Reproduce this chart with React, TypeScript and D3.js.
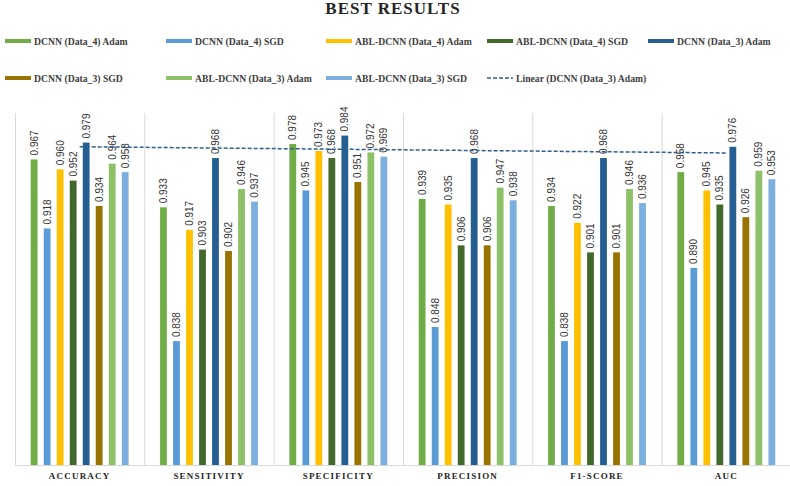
import React from "react";
import * as d3 from "d3";

const categories = ["ACCURACY", "SENSITIVITY", "SPECIFICITY", "PRECISION", "F1-SCORE", "AUC"];
const seriesNames = [
  "DCNN (Data_4) Adam",
  "DCNN (Data_4) SGD",
  "ABL-DCNN (Data_4) Adam",
  "ABL-DCNN (Data_4) SGD",
  "DCNN (Data_3) Adam",
  "DCNN (Data_3) SGD",
  "ABL-DCNN (Data_3) Adam",
  "ABL-DCNN (Data_3) SGD",
];
const seriesColors = ["#70AD47", "#5B9BD5", "#FFC000", "#43682B", "#255E91", "#997300", "#8CC168", "#7CAFDD"];
const dcnn4Adam = [0.967, 0.933, 0.978, 0.939, 0.934, 0.958];
const dcnn4Sgd = [0.918, 0.838, 0.945, 0.848, 0.838, 0.890];
const abl4Adam = [0.960, 0.917, 0.973, 0.935, 0.922, 0.945];
const abl4Sgd = [0.952, 0.903, 0.968, 0.906, 0.901, 0.935];
const dcnn3Adam = [0.979, 0.968, 0.984, 0.968, 0.968, 0.976];
const dcnn3Sgd = [0.934, 0.902, 0.951, 0.906, 0.901, 0.926];
const abl3Adam = [0.964, 0.946, 0.972, 0.947, 0.946, 0.959];
const abl3Sgd = [0.958, 0.937, 0.969, 0.938, 0.936, 0.953];
const seriesValues = [dcnn4Adam, dcnn4Sgd, abl4Adam, abl4Sgd, dcnn3Adam, dcnn3Sgd, abl3Adam, abl3Sgd];
const trendLabel = "Linear (DCNN (Data_3) Adam)";
const title = "BEST RESULTS";
const yDomain = [0.75, 1.0];

const W = 790;
const H = 486;

export default function App() {
  const x0 = d3.scaleBand<string>().domain(categories).range([15, 791]).padding(0);
  const bw = x0.bandwidth();
  const x1 = d3.scaleBand<string>().domain(seriesNames).range([0, bw]).paddingInner(0.477).paddingOuter(1.21);
  const y = d3.scaleLinear().domain(yDomain).range([465, 113]);

  // linear trend for DCNN (Data_3) Adam
  const xs = dcnn3Adam.map((_, i) => i + 1);
  const mx = d3.mean(xs) as number;
  const my = d3.mean(dcnn3Adam) as number;
  const sxy = d3.sum(xs.map((xv, i) => (xv - mx) * (dcnn3Adam[i] - my)));
  const sxx = d3.sum(xs.map((xv) => (xv - mx) ** 2));
  const slope = sxy / sxx;
  const icpt = my - slope * mx;
  const trendPts: [number, number][] = categories.map((c, i) => [
    (x0(c) as number) + bw / 2,
    y(icpt + slope * (i + 1)),
  ]);
  const trendPath = d3.line()(trendPts) as string;

  const legendCols = [5, 166, 326, 487, 648];
  const legendRows = [41, 78];
  const legendItems = [
    ...seriesNames.map((n, i) => ({ name: n, color: seriesColors[i], dashed: false })),
    { name: trendLabel, color: "#2F5F8F", dashed: true },
  ];

  const serif = "Liberation Serif";
  const narrow = "Liberation Sans Narrow, Liberation Sans, sans-serif";

  return (
    <svg width={W} height={H} style={{ position: "absolute", left: 0, top: 0, background: "#fff" }}>
      <rect x={0} y={0} width={W} height={H} fill="#fff" />
      <text x={393} y={14} textAnchor="middle" fontFamily={serif} fontWeight="bold" fontSize={17} letterSpacing={1} fill="#262626">
        {title}
      </text>
      {legendItems.map((it, i) => {
        const cx = legendCols[i % 5];
        const cy = legendRows[Math.floor(i / 5)];
        return (
          <g key={it.name}>
            {it.dashed ? (
              <line x1={cx} x2={cx + 26} y1={cy} y2={cy} stroke={it.color} strokeWidth={1.5} strokeDasharray="4,2" />
            ) : (
              <rect x={cx} y={cy - 2} width={26} height={4} fill={it.color} />
            )}
            <text x={cx + 29} y={cy + 3.5} fontFamily={serif} fontWeight="bold" fontSize={9.7} fill="#404040">
              {it.name}
            </text>
          </g>
        );
      })}
      {categories.map((c) => (
        <line key={"g" + c} x1={(x0(c) as number) + 0.5} x2={(x0(c) as number) + 0.5} y1={113} y2={465} stroke="#D9D9D9" strokeWidth={1} />
      ))}
      <line x1={790.5} x2={790.5} y1={113} y2={465} stroke="#D9D9D9" />
      <line x1={15} x2={791} y1={465.5} y2={465.5} stroke="#D9D9D9" strokeWidth={1} />
      {categories.map((c, ci) => (
        <g key={c} transform={`translate(${x0(c)},0)`}>
          {seriesNames.map((s, si) => {
            const v = seriesValues[si][ci];
            const bx = x1(s) as number;
            const by = y(v);
            return (
              <g key={s}>
                <rect x={bx} y={by} width={x1.bandwidth()} height={465 - by} fill={seriesColors[si]} />
                <text
                  transform={`translate(${bx + x1.bandwidth() / 2 + 3.5},${by - 4}) rotate(-90)`}
                  fontFamily={narrow}
                  fontSize={10}
                  fill="#333333"
                >
                  {v.toFixed(3)}
                </text>
              </g>
            );
          })}
          <text x={bw / 2} y={479} textAnchor="middle" fontFamily={serif} fontWeight="bold" fontSize={9} letterSpacing={1.2} fill="#262626">
            {c}
          </text>
        </g>
      ))}
      <path d={trendPath} fill="none" stroke="#2F5F8F" strokeWidth={1.5} strokeDasharray="4,2" />
    </svg>
  );
}
